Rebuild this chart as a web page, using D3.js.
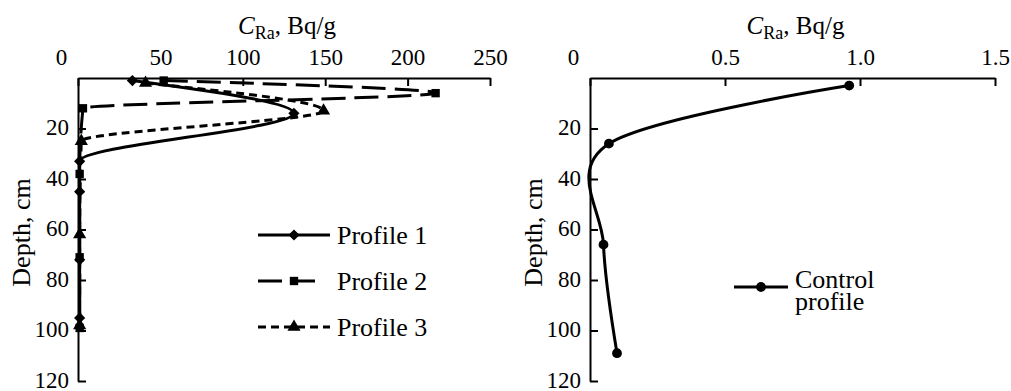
<!DOCTYPE html>
<html>
<head>
<meta charset="utf-8">
<script src="https://cdn.jsdelivr.net/npm/d3@7"></script>
</head>
<body style="margin:0">
<svg id="chart" width="1011" height="391"></svg>
<script>
// depth scale shared by both panels
const depthTicks = [20, 40, 60, 80, 100, 120];
const leftTicks = [0, 50, 100, 150, 200, 250];
const rightTicks = [0, 0.5, 1.0, 1.5];

// left panel: three profiles (Bq/g vs depth, cm)
const profile1Depth = [1, 14, 33, 45, 72, 95];
const profile1Value = [33, 131, 1, 1, 1, 1];
const profile2Depth = [1, 6, 12, 38, 71, 99];
const profile2Value = [52, 217, 3, 1, 1, 1];
const profile3Depth = [2, 13, 25, 62, 98];
const profile3Value = [41, 149, 2, 1, 1];

// right panel: control profile
const controlDepth = [3, 26, 66, 109];
const controlValue = [0.96, 0.07, 0.05, 0.10];

const legendLabels = ['Profile 1', 'Profile 2', 'Profile 3'];

const FONT = '"Liberation Serif"';

const svg = d3.select('#chart');
svg.append('rect').attr('width', 1011).attr('height', 391).attr('fill', '#fff');

const y = d3.scaleLinear().domain([0, 120]).range([78, 381]);
const xL = d3.scaleLinear().domain([0, 250]).range([78, 490]);
const xR = d3.scaleLinear().domain([0, 1.5]).range([590, 995]);

const zip = (ds, vs) => ds.map((d, i) => ({ depth: d, value: vs[i] }));

const drawAxes = (x, ticks, fmt, yTitleX) => {
  const top = svg.append('g')
    .attr('transform', `translate(0,${y(0)})`)
    .call(d3.axisTop(x).tickValues(ticks).tickFormat(fmt)
      .tickSizeInner(-8).tickSizeOuter(0).tickPadding(13));
  // the zero label sits left of the corner in the original
  top.selectAll('.tick text').filter(d => d === 0).attr('dx', -17);

  const left = svg.append('g')
    .attr('transform', `translate(${x.range()[0]},0)`)
    .call(d3.axisLeft(y).tickValues(depthTicks)
      .tickSizeInner(-8).tickSizeOuter(0).tickPadding(9));

  [top, left].forEach(g => {
    g.attr('font-family', FONT).attr('font-size', 23);
    g.selectAll('path, line').attr('stroke', '#000').attr('stroke-width', 2);
    g.selectAll('text').attr('fill', '#000');
  });
  left.selectAll('.tick text').attr('dy', '0.28em');

  // x title with subscript
  const t = svg.append('text')
    .attr('x', (x.range()[0] + x.range()[1]) / 2 + 3)
    .attr('y', 34)
    .attr('text-anchor', 'middle')
    .attr('font-family', FONT)
    .attr('font-size', 25);
  t.append('tspan').attr('font-style', 'italic').text('C');
  t.append('tspan').attr('font-size', 18).attr('dy', 5).text('Ra');
  t.append('tspan').attr('dy', -5).text(', Bq/g');

  svg.append('text')
    .attr('transform', `translate(${yTitleX},${(y(40) + y(80)) / 2 + 3}) rotate(-90)`)
    .attr('text-anchor', 'middle')
    .attr('font-family', FONT)
    .attr('font-size', 26)
    .text('Depth, cm');
};

drawAxes(xL, leftTicks, d => d, 30);
drawAxes(xR, rightTicks, d => (d === 0 ? '0' : d3.format('.1f')(d)), 542);

// markers
const diamond = d3.symbol().type(d3.symbolDiamond2).size(80);
const square = d3.symbol().type(d3.symbolSquare).size(70);
const triangle = d3.symbol().type(d3.symbolTriangle).size(75);
const circle = d3.symbol().type(d3.symbolCircle).size(75);

const series = [
  { data: zip(profile1Depth, profile1Value), dash: null, sym: diamond },
  { data: zip(profile2Depth, profile2Value), dash: '24,9', sym: square },
  { data: zip(profile3Depth, profile3Value), dash: '8,5', sym: triangle },
];

// depth only increases along each profile, so a monotone curve in y avoids overshoot
const lineL = d3.line()
  .x(d => xL(d.value)).y(d => y(d.depth))
  .curve(d3.curveMonotoneY);

series.forEach(s => {
  svg.append('path')
    .datum(s.data)
    .attr('d', lineL)
    .attr('fill', 'none')
    .attr('stroke', '#000')
    .attr('stroke-width', 3)
    .attr('stroke-dasharray', s.dash);
});
series.forEach(s => {
  svg.selectAll(null)
    .data(s.data)
    .enter()
    .append('path')
    .attr('d', s.sym)
    .attr('transform', d => `translate(${xL(d.value)},${y(d.depth)})`)
    .attr('fill', '#000');
});

// left legend
const legendLen = [72, 62, 72];
series.forEach((s, i) => {
  const ly = 235 + i * 46;
  svg.append('line')
    .attr('x1', 258).attr('x2', 258 + legendLen[i])
    .attr('y1', ly).attr('y2', ly)
    .attr('stroke', '#000').attr('stroke-width', 3)
    .attr('stroke-dasharray', s.dash);
  svg.append('path')
    .attr('d', s.sym)
    .attr('transform', `translate(294,${ly})`)
    .attr('fill', '#000');
  svg.append('text')
    .attr('x', 337).attr('y', ly + 9)
    .attr('font-family', FONT)
    .attr('font-size', 26)
    .text(legendLabels[i]);
});

// right panel line
const controlData = zip(controlDepth, controlValue);
const lineR = d3.line()
  .x(d => xR(d.value)).y(d => y(d.depth))
  .curve(d3.curveCardinal.tension(0));

svg.append('path')
  .datum(controlData)
  .attr('d', lineR)
  .attr('fill', 'none')
  .attr('stroke', '#000')
  .attr('stroke-width', 3);
svg.selectAll(null)
  .data(controlData)
  .enter()
  .append('path')
  .attr('d', circle)
  .attr('transform', d => `translate(${xR(d.value)},${y(d.depth)})`)
  .attr('fill', '#000');

// right legend
svg.append('line')
  .attr('x1', 734).attr('x2', 788).attr('y1', 287).attr('y2', 287)
  .attr('stroke', '#000').attr('stroke-width', 3);
svg.append('path')
  .attr('d', circle)
  .attr('transform', 'translate(761,287)')
  .attr('fill', '#000');
const ct = svg.append('text').attr('font-family', FONT).attr('font-size', 26);
ct.append('tspan').attr('x', 795).attr('y', 288).text('Control');
ct.append('tspan').attr('x', 795).attr('y', 310).text('profile');
</script>
</body>
</html>
